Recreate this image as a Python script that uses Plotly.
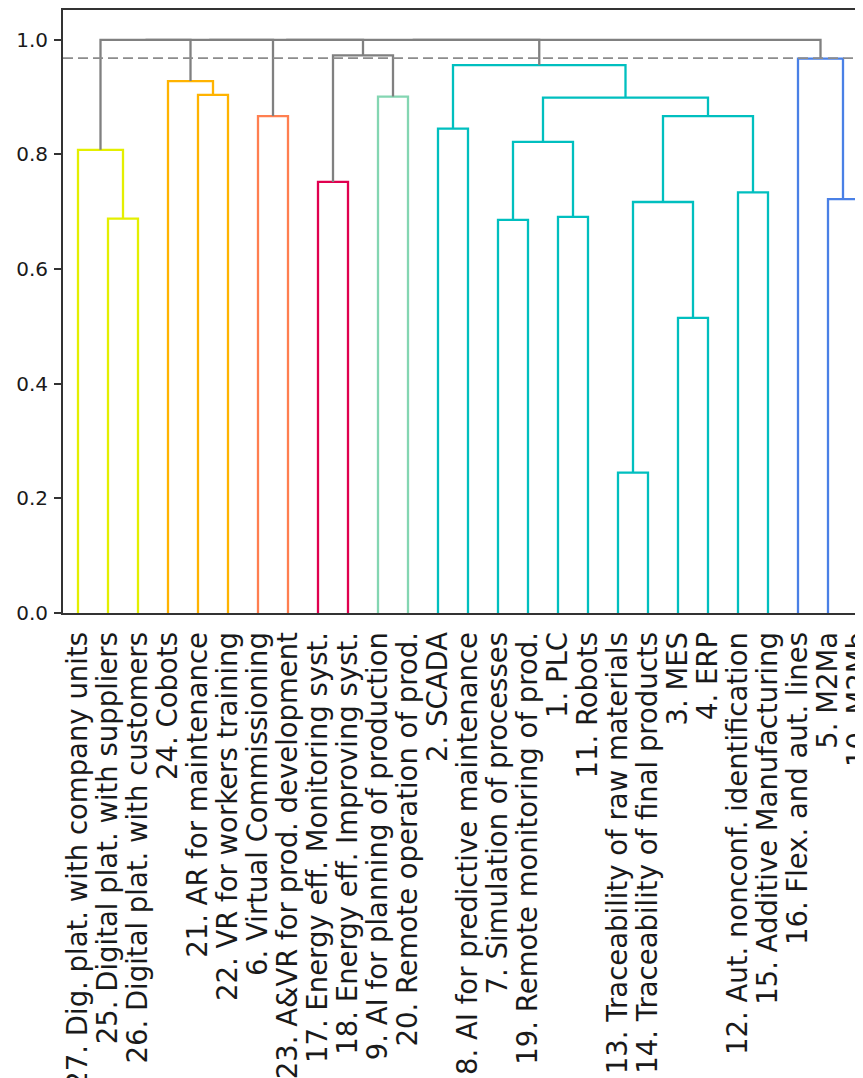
import plotly.graph_objects as go

# ---- data ----
leaf_labels = [
    "27. Dig. plat. with company units",
    "25. Digital plat. with suppliers",
    "26. Digital plat. with customers",
    "24. Cobots",
    "21. AR for maintenance",
    "22. VR for workers training",
    "6. Virtual Commissioning",
    "23. A&VR for prod. development",
    "17. Energy eff. Monitoring syst.",
    "18. Energy eff. Improving syst.",
    "9. AI for planning of production",
    "20. Remote operation of prod.",
    "2. SCADA",
    "8. AI for predictive maintenance",
    "7. Simulation of processes",
    "19. Remote monitoring of prod.",
    "1. PLC",
    "11. Robots",
    "13. Traceability of raw materials",
    "14. Traceability of final products",
    "3. MES",
    "4. ERP",
    "12. Aut. nonconf. identification",
    "15. Additive Manufacturing",
    "16. Flex. and aut. lines",
    "5. M2Ma",
    "10. M2Mb",
]

# linkage: node ids 0..26 are leaves, merge k creates node 27+k
merge_left = [18, 20, 14, 1, 16, 27, 25, 22, 8, 0, 29, 12, 6, 32, 37, 10, 4, 3, 38, 24, 35, 36, 48, 49, 50, 51]
merge_right = [19, 21, 15, 2, 17, 28, 26, 23, 9, 30, 31, 13, 7, 34, 40, 11, 5, 43, 41, 33, 42, 44, 39, 47, 45, 46]
merge_height = [0.245, 0.515, 0.686, 0.688, 0.691, 0.717, 0.722, 0.734, 0.752, 0.808,
                0.822, 0.845, 0.867, 0.867, 0.899, 0.901, 0.904, 0.928, 0.956, 0.967,
                0.973, 1.0, 1.0, 1.0, 1.0, 1.0]
merge_cluster = ["cyan", "cyan", "cyan", "yellow", "cyan", "cyan", "blue", "cyan", "red", "yellow",
                 "cyan", "cyan", "coral", "cyan", "cyan", "mint", "orange", "orange", "cyan", "blue",
                 "above", "above", "above", "above", "above", "above"]
cut_height = 0.968
y_ticks = [0.0, 0.2, 0.4, 0.6, 0.8, 1.0]

# ---- styles ----
palette = {
    "yellow": "#e4ef00",
    "orange": "#ffb300",
    "coral": "#ff7f50",
    "red": "#e0004f",
    "mint": "#84d6b2",
    "cyan": "#00bfbf",
    "blue": "#4a80e6",
    "above": "#808080",
}

n = len(leaf_labels)
node_x = [5 + 10 * i for i in range(n)]
node_h = [0.0] * n

segs = {}
for a, b, h, c in zip(merge_left, merge_right, merge_height, merge_cluster):
    xa, xb = node_x[a], node_x[b]
    ha, hb = node_h[a], node_h[b]
    xs, ys = segs.setdefault(c, ([], []))
    xs += [xa, xa, xb, xb, None]
    ys += [ha, h, h, hb, None]
    node_x.append((xa + xb) / 2)
    node_h.append(h)

fig = go.Figure()
order = ["yellow", "orange", "coral", "red", "mint", "cyan", "blue", "above"]
for c in order:
    if c in segs:
        xs, ys = segs[c]
        fig.add_trace(go.Scatter(x=xs, y=ys, mode="lines",
                                 line=dict(color=palette[c], width=2.3),
                                 hoverinfo="skip", showlegend=False))

fig.add_trace(go.Scatter(x=[0, 10 * n], y=[cut_height, cut_height], mode="lines",
                         line=dict(color="#8c8c8c", width=1.8, dash="10px,5px"),
                         hoverinfo="skip", showlegend=False))

fig.update_layout(
    width=855, height=1070,
    margin=dict(l=55, r=0, t=2, b=465),
    paper_bgcolor="white", plot_bgcolor="white",
    font=dict(family="DejaVu Sans", color="#1a1a1a"),
    showlegend=False,
)
fig.update_xaxes(
    range=[0, 800 / 3], tickmode="array",
    tickvals=[5 + 10 * i for i in range(n)], ticktext=leaf_labels,
    tickangle=-90, tickfont=dict(size=27.5, family="DejaVu Sans", color="#1a1a1a"),
    ticks="", ticklabelstandoff=6, ticklabeloverflow="allow",
    showgrid=False, zeroline=False,
    showline=True, linecolor="#333333", linewidth=2, mirror=True,
    automargin=False,
)
fig.update_yaxes(
    range=[0, 1.052], tickmode="array", tickvals=y_ticks,
    ticktext=[f"{v:.1f}" for v in y_ticks],
    tickfont=dict(size=20, family="DejaVu Sans", color="#1a1a1a"),
    ticks="outside", ticklen=7, tickwidth=1.5, tickcolor="#333333",
    ticklabelstandoff=2,
    showgrid=False, zeroline=False,
    showline=True, linecolor="#333333", linewidth=2,
    automargin=False,
)

fig.write_html("out.html")
